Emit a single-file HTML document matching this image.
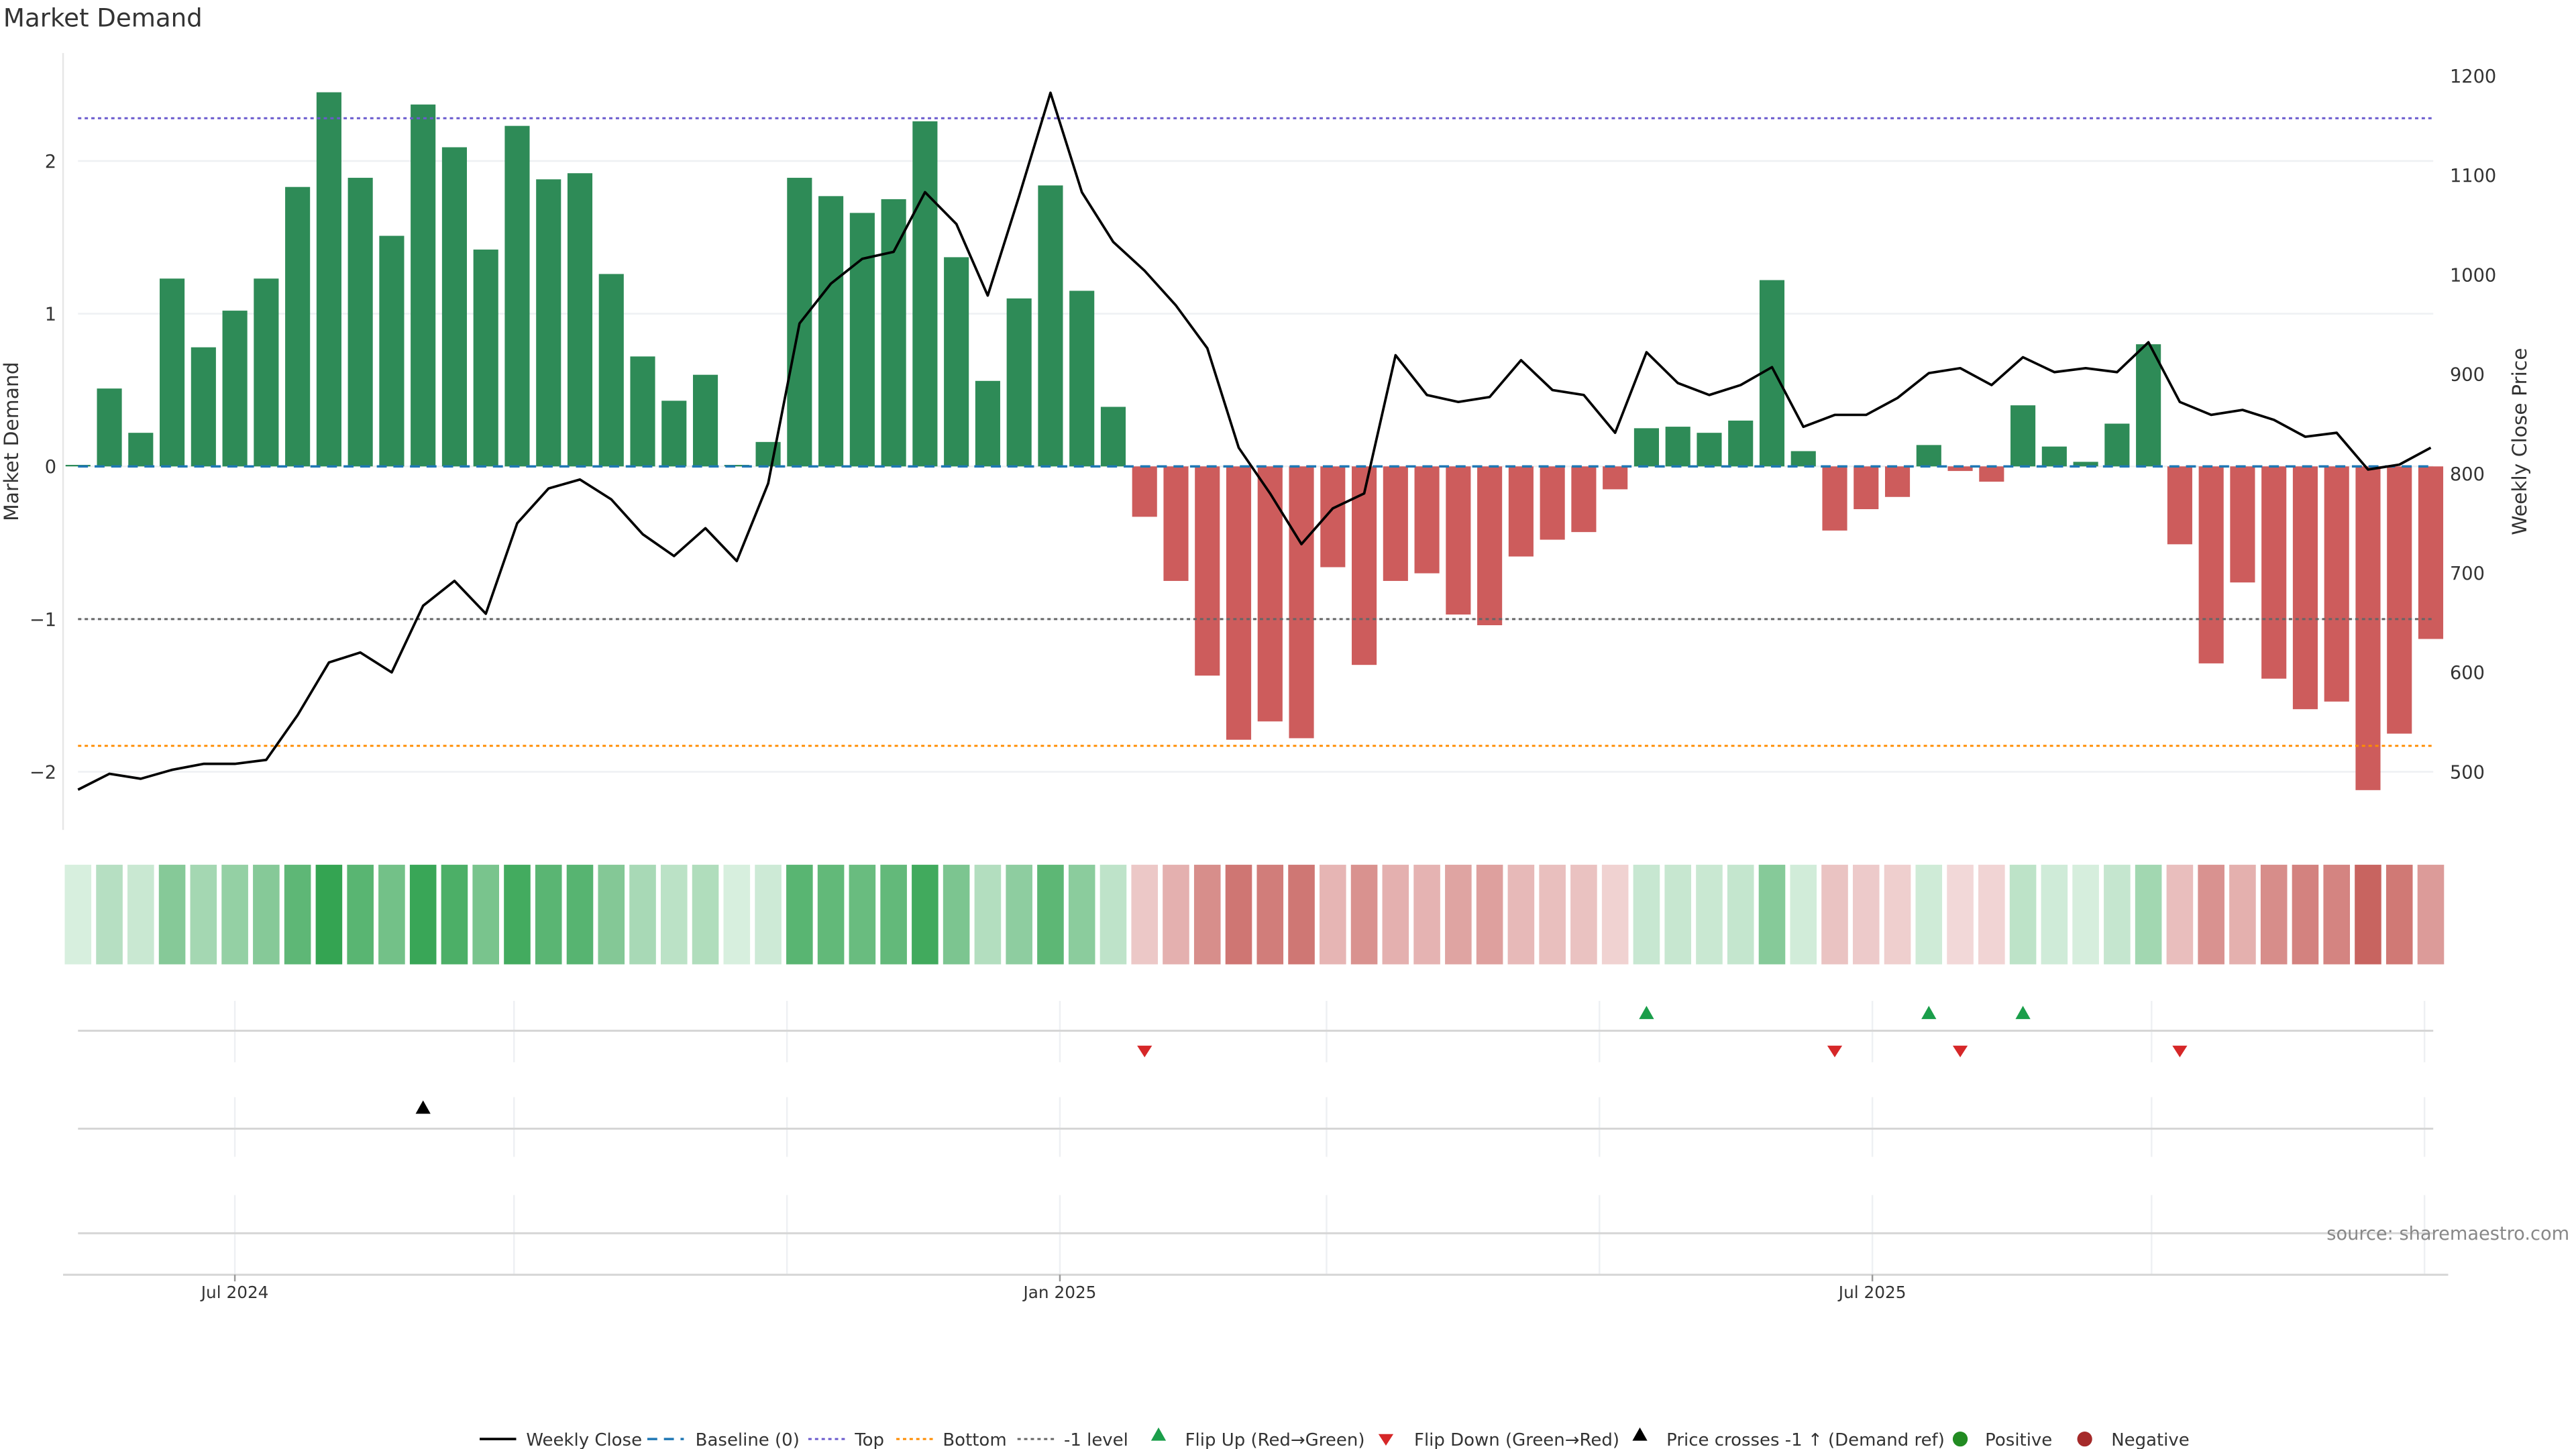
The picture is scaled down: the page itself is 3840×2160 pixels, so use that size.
<!DOCTYPE html>
<html><head><meta charset="utf-8">
<style>
html,body{margin:0;padding:0;background:#fff;}
svg{display:block;font-family:"DejaVu Sans","Liberation Sans",sans-serif;}
</style></head>
<body>
<svg id="chart" width="3840" height="2160" viewBox="0 0 1552 873" xmlns="http://www.w3.org/2000/svg">
<rect width="1552" height="873" fill="#fff"/>
<text x="2" y="16" font-size="15" fill="#333">Market Demand</text>
<g id="main"></g>
<g id="heat"></g>
<g id="events"></g>
<g id="legend"></g>
</svg>
<script>
const demand = [0.01,0.51,0.22,1.23,0.78,1.02,1.23,1.83,2.45,1.89,1.51,2.37,2.09,1.42,2.23,1.88,1.92,1.26,0.72,0.43,0.60,0.01,0.16,1.89,1.77,1.66,1.75,2.26,1.37,0.56,1.10,1.84,1.15,0.39,-0.33,-0.75,-1.37,-1.79,-1.67,-1.78,-0.66,-1.30,-0.75,-0.70,-0.97,-1.04,-0.59,-0.48,-0.43,-0.15,0.25,0.26,0.22,0.30,1.22,0.10,-0.42,-0.28,-0.20,0.14,-0.03,-0.10,0.40,0.13,0.03,0.28,0.80,-0.51,-1.29,-0.76,-1.39,-1.59,-1.54,-2.12,-1.75,-1.13];
const price = [482,498,493,502,508,508,512,557,610,620,600,667,692,659,750,785,794,774,739,717,745,712,790,951,991,1016,1023,1083,1051,979,1079,1183,1083,1033,1004,969,926,826,780,729,765,780,919,879,872,877,914,884,879,841,922,891,879,889,907,847,859,859,876,901,906,889,917,902,906,902,932,872,859,864,854,837,841,804,809,826];
const flipUp = [50,59,62];
const flipDown = [34,56,60,67];
const priceCross = [11];
const leftTicks = [2,1,0,-1,-2];
const rightTicks = [1200,1100,1000,900,800,700,600,500];
const topLevel = 2.28, bottomLevel = -1.83, minusOne = -1;
const dateTicks = ["Jul 2024","Jan 2025","Jul 2025"];
const dateTickIdx = [5,31.3,57.2];
const gridIdx = [5,13.9,22.6,31.3,39.8,48.5,57.2,66.1,74.8];

const NS="http://www.w3.org/2000/svg";
function mk(parent,tag,attrs,text){const e=document.createElementNS(NS,tag);for(const k in attrs)e.setAttribute(k,attrs[k]);if(text!==undefined)e.textContent=text;parent.appendChild(e);return e;}
const xs=i=>47+i*18.9;
const yL=v=>281-v*92;
const yR=p=>465-(p-500)*0.599;
const main=document.getElementById('main');

// left spine
let e=mk(main,'line',{x1:38,y1:32,x2:38,y2:500,stroke:'#e6e6e6','stroke-width':1});


leftTicks.forEach(t=>{
  let g=mk(main,'line',{x1:47,x2:1466,y1:yL(t),y2:yL(t),stroke:'#eef0f3','stroke-width':1});
  
  
  let l=mk(main,'text',{x:34,y:yL(t)+4,'font-size':11,fill:'#333','text-anchor':'end'},t<0?'\u2212'+Math.abs(t):String(t));
  
  
});
rightTicks.forEach(t=>{
  let l=mk(main,'text',{x:1476,y:yR(t)+4,'font-size':11,fill:'#333'},String(t));
  
  
});
e=mk(main,'text',{x:0,y:0,'font-size':12,fill:'#333','text-anchor':'middle',transform:'translate(11,266) rotate(-90)'},'Market Demand');


e=mk(main,'text',{x:0,y:0,'font-size':12,fill:'#333','text-anchor':'middle',transform:'translate(1522,266) rotate(-90)'},'Weekly Close Price');



// bars
demand.forEach((v,i)=>{
  const y0=yL(0),y1=yL(v);
  let b=mk(main,'rect',{x:xs(i)-7.5,y:Math.min(y0,y1),width:15,height:Math.max(Math.abs(y1-y0),0.6),fill:v>=0?'#2e8b57':'#cd5c5c'});
  
  
});
// reference lines
function hline(v,color,dash,name,w){
  let l=mk(main,'line',{x1:47,x2:1466,y1:yL(v),y2:yL(v),stroke:color,'stroke-width':w||1.2,'stroke-dasharray':dash});
  
  
}
hline(0,'#1f77b4','6,4','baseline-line',1.4);
hline(topLevel,'#6a5acd','2,2','top-line');
hline(bottomLevel,'#ff8c00','2,2','bottom-line');
hline(minusOne,'#666','2,2','minus-one-line');
// price line
e=mk(main,'polyline',{points:price.map((p,i)=>xs(i)+','+yR(p)).join(' '),fill:'none',stroke:'#000','stroke-width':1.5,'stroke-linejoin':'round'});



// heatmap
const heat=document.getElementById('heat');
function mix(a,b,t){return 'rgb('+a.map((c,k)=>Math.round(c+(b[k]-c)*t)).join(',')+')';}
demand.forEach((v,i)=>{
  const col=v>=0?mix([216,239,223],[52,164,82],Math.min(v/2.45,1)):mix([243,218,218],[200,100,96],Math.min(-v/2.12,1));
  let c=mk(heat,'rect',{x:xs(i)-8,y:521,width:16,height:60,fill:col});
  
  
});

// event rows
const ev=document.getElementById('events');
[[603,640],[661,697],[720,768]].forEach(r=>{
  gridIdx.forEach(g=>{
    let l=mk(ev,'line',{x1:xs(g),x2:xs(g),y1:r[0],y2:r[1],stroke:'#eef0f3','stroke-width':1});
    
    
  });
});
[621,680,743].forEach(y=>{
  let l=mk(ev,'line',{x1:47,x2:1466,y1:y,y2:y,stroke:'#d6d6d6','stroke-width':1.2});
  
  
});
flipUp.forEach(i=>{const x=xs(i);
  let m=mk(ev,'path',{d:`M${x-4.5},614 L${x+4.5},614 L${x},606 Z`,fill:'#1a9e4a'});
  
  
});
flipDown.forEach(i=>{const x=xs(i);
  let m=mk(ev,'path',{d:`M${x-4.5},630 L${x+4.5},630 L${x},637 Z`,fill:'#d62728'});
  
  
});
priceCross.forEach(i=>{const x=xs(i);
  let m=mk(ev,'path',{d:`M${x-4.5},671 L${x+4.5},671 L${x},663 Z`,fill:'#000'});
  
  
});
e=mk(ev,'line',{x1:38,x2:1475,y1:768,y2:768,stroke:'#d6d6d6','stroke-width':1.2});


dateTicks.forEach((t,k)=>{const x=xs(dateTickIdx[k]);
  let tk=mk(ev,'line',{x1:x,x2:x,y1:768,y2:772,stroke:'#999','stroke-width':1});
  
  
  let l=mk(ev,'text',{x:x,y:782,'font-size':10,fill:'#333','text-anchor':'middle'},t);
  
  
});
e=mk(ev,'text',{x:1548,y:747,'font-size':11,fill:'#888','text-anchor':'end'},'source: sharemaestro.com');



// legend
const lg=document.getElementById('legend');
const LY=867;
function ltext(x,t,name){let l=mk(lg,'text',{x:x,y:LY+4,'font-size':10.5,fill:'#333'},t);}
function lline(x1,col,dash,w){mk(lg,'line',{x1:x1,x2:x1+22,y1:LY,y2:LY,stroke:col,'stroke-width':w,'stroke-dasharray':dash});}
lline(289,'#000','',1.5); ltext(317,'Weekly Close','legend-weekly-close');
lline(390,'#1f77b4','6,4',1.4); ltext(419,'Baseline (0)','legend-baseline');
lline(487,'#6a5acd','2,2',1.2); ltext(515,'Top','legend-top');
lline(540,'#ff8c00','2,2',1.2); ltext(568,'Bottom','legend-bottom');
lline(613,'#666','2,2',1.2); ltext(641,'-1 level','legend-minus-one');
mk(lg,'path',{d:`M693.5,${LY+1} L702.5,${LY+1} L698,${LY-7} Z`,fill:'#1a9e4a'}); ltext(714,'Flip Up (Red\u2192Green)','legend-flip-up');
mk(lg,'path',{d:`M830.5,${LY-3} L839.5,${LY-3} L835,${LY+4} Z`,fill:'#d62728'}); ltext(852,'Flip Down (Green\u2192Red)','legend-flip-down');
mk(lg,'path',{d:`M983.5,${LY+1} L992.5,${LY+1} L988,${LY-7} Z`,fill:'#000'}); ltext(1004,'Price crosses -1 \u2191 (Demand ref)','legend-price-cross');
mk(lg,'circle',{cx:1181,cy:LY,r:4.5,fill:'#228b22'}); ltext(1196,'Positive','legend-positive');
mk(lg,'circle',{cx:1256,cy:LY,r:4.5,fill:'#a52a2a'}); ltext(1272,'Negative','legend-negative');
</script>
</body></html>
